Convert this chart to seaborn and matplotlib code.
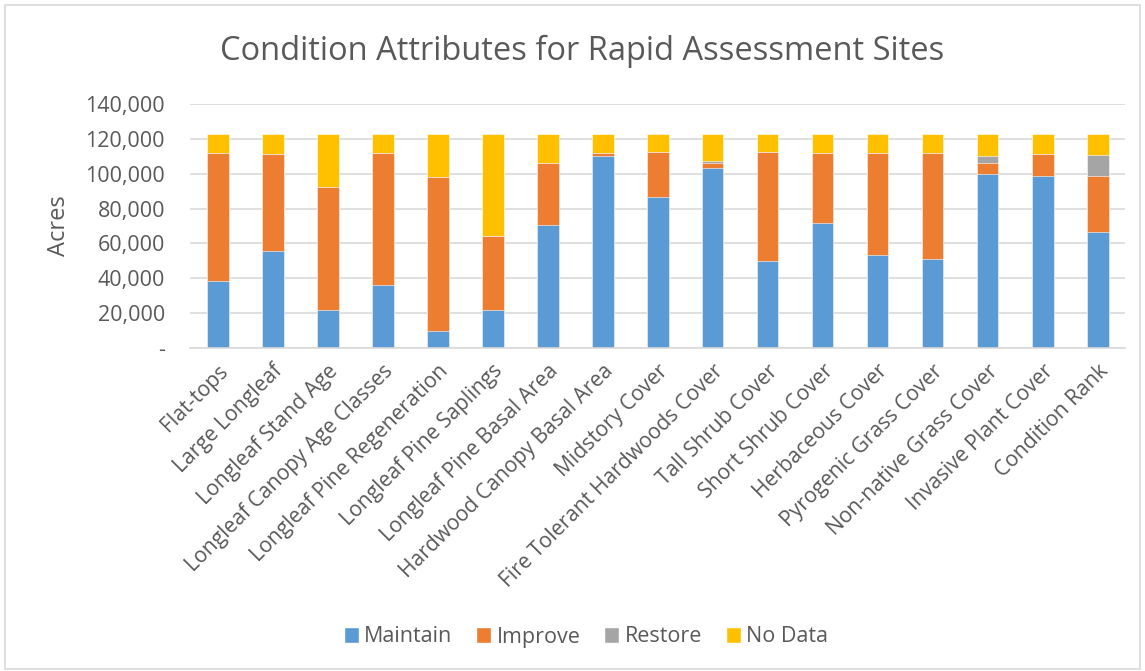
import matplotlib
matplotlib.use("Agg")
import matplotlib.pyplot as plt
from matplotlib.patches import Patch, Rectangle
from matplotlib.ticker import FuncFormatter, MultipleLocator
import pandas as pd
import seaborn as sns

categories = ["Flat-tops", "Large Longleaf", "Longleaf Stand Age", "Longleaf Canopy Age Classes",
              "Longleaf Pine Regeneration", "Longleaf Pine Saplings", "Longleaf Pine Basal Area",
              "Hardwood Canopy Basal Area", "Midstory Cover", "Fire Tolerant Hardwoods Cover",
              "Tall Shrub Cover", "Short Shrub Cover", "Herbaceous Cover", "Pyrogenic Grass Cover",
              "Non-native Grass Cover", "Invasive Plant Cover", "Condition Rank"]
maintain = [38600, 55800, 22000, 36100, 9900, 21800, 70700, 110400, 86500, 103500,
            50000, 71600, 53300, 51200, 100100, 98700, 66500]
improve = [73500, 55400, 70600, 75800, 88400, 42200, 35300, 1400, 25800, 2700,
           62300, 40100, 58800, 60900, 6100, 12600, 32400]
restore = [0, 0, 0, 0, 0, 0, 0, 0, 0, 1300, 0, 0, 0, 0, 4000, 0, 11800]
no_data = [10500, 11400, 30000, 10700, 24300, 58600, 16600, 10800, 10300, 15100,
           10300, 10900, 10500, 10500, 12400, 11300, 11900]

series = ["Maintain", "Improve", "Restore", "No Data"]
colors = ["#5b9bd5", "#ed7d31", "#a5a5a5", "#ffc000"]

df = pd.DataFrame({"category": categories, "Maintain": maintain, "Improve": improve,
                   "Restore": restore, "No Data": no_data})
# running totals so each segment can be drawn over the one above it
stacked = df[series].cumsum(axis=1)
stacked["category"] = df["category"]

sns.set_theme(style="white")
plt.rcParams["font.family"] = ["Open Sans", "DejaVu Sans"]
text_color = "#595959"

fig = plt.figure(figsize=(11.45, 6.71), dpi=100)
ax = fig.add_axes([190 / 1145, 1 - 348 / 671, 935 / 1145, 244 / 671])

for name, color in reversed(list(zip(series, colors))):
    sns.barplot(data=stacked, x="category", y=name, color=color, width=0.4,
                saturation=1, ax=ax, edgecolor="white", linewidth=0.4)

ax.set_ylim(0, 140000)
ax.yaxis.set_major_locator(MultipleLocator(20000))
ax.yaxis.set_major_formatter(FuncFormatter(lambda v, p: "-" if v == 0 else f"{v:,.0f}"))
ax.grid(axis="y", color="#d9d9d9", linewidth=1.2)
ax.set_axisbelow(True)
for s in ["top", "right", "left"]:
    ax.spines[s].set_visible(False)
ax.spines["bottom"].set_color("#d9d9d9")
ax.spines["bottom"].set_linewidth(1.2)
ax.set_xlim(-0.5, len(categories) - 0.5)

ax.set_xlabel("")
ax.set_ylabel("Acres", fontsize=17, color=text_color, labelpad=10)
ax.tick_params(axis="y", labelsize=15.5, labelcolor=text_color, length=0, pad=18)
ax.tick_params(axis="x", labelsize=15.2, labelcolor=text_color, length=0, pad=9)
plt.setp(ax.get_xticklabels(), rotation=45, ha="right", rotation_mode="anchor")

fig.suptitle("Condition Attributes for Rapid Assessment Sites", fontsize=23.5,
             color=text_color, x=582 / 1145, y=1 - 51 / 671, va="center")

handles = [Patch(facecolor=c, label=n) for n, c in zip(series, colors)]
fig.legend(handles=handles, loc="center", bbox_to_anchor=(586 / 1145, 1 - 637 / 671), ncol=4,
           frameon=False, fontsize=15.5, labelcolor=text_color, handlelength=0.7,
           handleheight=0.7, handletextpad=0.25, columnspacing=1.1)

fig.patches.append(Rectangle((5 / 1145, 2 / 671), 1135 / 1145, 664 / 671, transform=fig.transFigure,
                             fill=False, edgecolor="#d9d9d9", linewidth=1.2))

fig.savefig("out.png", dpi=100)
